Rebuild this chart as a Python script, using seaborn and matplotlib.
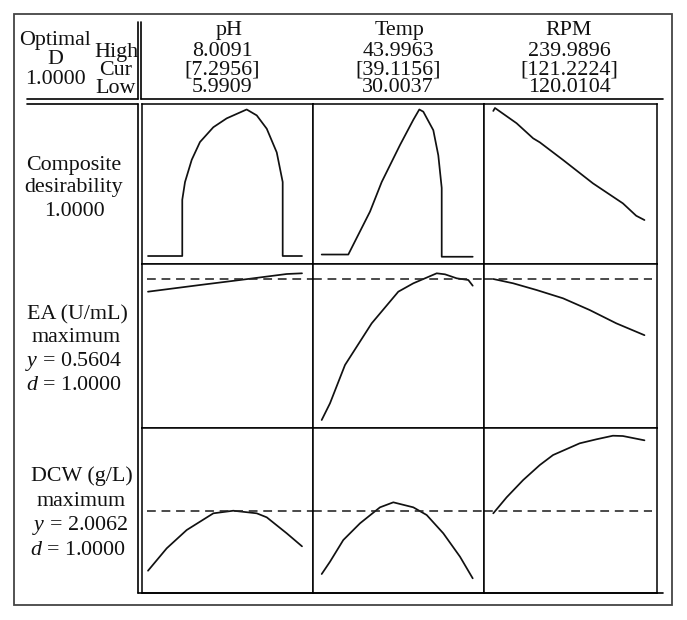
import matplotlib
matplotlib.use("Agg")
import matplotlib.pyplot as plt
import seaborn as sns
from matplotlib.lines import Line2D
from matplotlib.patches import Rectangle

# factor settings shown in the header
factors = ["pH", "Temp", "RPM"]
high_vals = ["8.0091", "43.9963", "239.9896"]
cur_vals = ["[7.2956]", "[39.1156]", "[121.2224]"]
low_vals = ["5.9909", "30.0037", "120.0104"]

# response targets (dashed lines)
ea_opt = 0.5604
dcw_opt = 2.0062

# composite desirability traces
ph_comp_x = [5.9909, 6.440, 6.440, 6.476, 6.564, 6.672, 6.847, 7.022, 7.284, 7.416, 7.547, 7.678, 7.756, 7.756, 8.0091]
ph_comp_y = [0, 0, 0.38, 0.50, 0.65, 0.77, 0.87, 0.93, 0.99, 0.95, 0.86, 0.70, 0.50, 0, 0]
temp_comp_x = [30.0037, 32.469, 34.480, 35.564, 37.260, 38.492, 39.048, 39.419, 40.346, 40.809, 41.124, 41.124, 43.9963]
temp_comp_y = [0.01, 0.01, 0.30, 0.50, 0.75, 0.92, 0.99, 0.975, 0.85, 0.68, 0.46, -0.005, -0.005]
rpm_comp_x = [120.0104, 121.35, 138.52, 151.65, 156.95, 175.37, 199.10, 222.83, 233.43, 239.9896]
rpm_comp_y = [0.98, 1.00, 0.897, 0.795, 0.768, 0.649, 0.491, 0.356, 0.272, 0.243]

# EA (U/mL) traces
ph_ea_x = [5.9909, 6.672, 7.197, 7.809, 8.0091]
ph_ea_y = [0.5406, 0.5513, 0.5593, 0.5689, 0.5700]
temp_ea_x = [30.0037, 30.773, 32.163, 34.637, 37.102, 38.492, 40.660, 41.429, 42.514, 43.589, 43.9963]
temp_ea_y = [0.3353, 0.3620, 0.4233, 0.4900, 0.5406, 0.5540, 0.5700, 0.5684, 0.5620, 0.5593, 0.5502]
rpm_ea_x = [120.0104, 135.83, 154.34, 175.37, 196.49, 217.61, 239.9896]
rpm_ea_y = [0.5609, 0.5540, 0.5433, 0.5300, 0.5113, 0.4900, 0.4710]

# DCW (g/L) traces
ph_dcw_x = [5.9909, 6.236, 6.498, 6.847, 7.109, 7.416, 7.547, 7.809, 8.0091]
ph_dcw_y = [1.406, 1.630, 1.813, 1.980, 2.006, 1.980, 1.940, 1.780, 1.650]
temp_dcw_x = [30.0037, 30.773, 32.005, 33.553, 35.406, 36.639, 38.492, 39.734, 41.272, 42.820, 43.9963]
temp_dcw_y = [1.373, 1.496, 1.713, 1.880, 2.040, 2.090, 2.040, 1.963, 1.780, 1.546, 1.330]
rpm_dcw_x = [120.0104, 130.61, 143.74, 156.95, 167.47, 188.59, 201.80, 214.93, 222.84, 239.9896]
rpm_dcw_y = [1.980, 2.140, 2.313, 2.463, 2.563, 2.680, 2.720, 2.756, 2.753, 2.710]

sns.set_style("white")
plt.rcParams["font.family"] = ["Liberation Serif", "DejaVu Serif"]
plt.rcParams["mathtext.fontset"] = "custom"
plt.rcParams["mathtext.rm"] = "Liberation Serif"
plt.rcParams["mathtext.it"] = "Liberation Serif:italic"

W, H = 687, 620
fig = plt.figure(figsize=(W / 100, H / 100), dpi=100)

def fx(x):
    return x / W

def fy(y):
    return 1 - y / H

def hline(y, x0, x1, lw=1.2, color="black"):
    fig.add_artist(Line2D([fx(x0), fx(x1)], [fy(y), fy(y)], lw=lw, color=color))

def vline(x, y0, y1, lw=1.2, color="black"):
    fig.add_artist(Line2D([fx(x), fx(x)], [fy(y0), fy(y1)], lw=lw, color=color))

# panel grid (pixel edges)
col_edges = [(142, 313), (313, 484), (484, 657)]
row_edges = [(104, 264), (264, 428), (428, 593)]
xlims = [(5.9123, 8.1532), (29.198, 45.043), (112.655, 249.94)]
ylims = [(-0.054, 1.027), (0.3225, 0.5849), (1.1832, 2.8332)]

traces = [
    [(ph_comp_x, ph_comp_y), (temp_comp_x, temp_comp_y), (rpm_comp_x, rpm_comp_y)],
    [(ph_ea_x, ph_ea_y), (temp_ea_x, temp_ea_y), (rpm_ea_x, rpm_ea_y)],
    [(ph_dcw_x, ph_dcw_y), (temp_dcw_x, temp_dcw_y), (rpm_dcw_x, rpm_dcw_y)],
]
targets = [None, ea_opt, dcw_opt]

for r, (top, bot) in enumerate(row_edges):
    for c, (left, right) in enumerate(col_edges):
        ax = fig.add_axes([fx(left), fy(bot), (right - left) / W, (bot - top) / H])
        xs, ys = traces[r][c]
        sns.lineplot(x=xs, y=ys, sort=False, estimator=None, ax=ax,
                     color="#111111", lw=1.25)
        if targets[r] is not None:
            xmin = 0.03 if c == 0 else 0
            xmax = 0.97 if c == 2 else 1
            ax.axhline(targets[r], xmin=xmin, xmax=xmax, color="#222222",
                       lw=1.15, ls=(0, (5.5, 3.6)))
        ax.set_xlim(*xlims[c])
        ax.set_ylim(*ylims[r])
        ax.set_xticks([])
        ax.set_yticks([])
        for s in ax.spines.values():
            s.set_color("black")
            s.set_linewidth(1.1)

# frame and separators
fig.add_artist(Rectangle((fx(14), fy(605)), (672 - 14) / W, (605 - 14) / H,
                         transform=fig.transFigure, fill=False,
                         edgecolor="#444444", lw=1.3))
vline(137.7, 21.7, 99.3)
vline(137.7, 104.3, 593)
vline(141, 21.7, 99.3)
hline(99.3, 26.7, 137.7)
hline(104.3, 26.7, 137.7)
hline(99.3, 141, 663)
hline(593, 137.7, 663)

fs = 15.8

def t(x, y, s, ha="center"):
    fig.text(fx(x), fy(y), s, ha=ha, va="baseline", fontsize=fs, color="#111111")

# header
t(55, 45, "Optimal")
t(55, 64, "D")
t(55, 84, "1.0000")
t(116, 56.5, "High")
t(116, 75, "Cur")
t(116, 93, "Low")

title_x = [229, 400, 569]
num_x = [222, 398, 569]
for i in range(3):
    t(title_x[i], 35, factors[i])
    t(num_x[i], 56.5, high_vals[i])
    t(num_x[i], 74.5, cur_vals[i])
    t(num_x[i], 92.5, low_vals[i])

# row labels
t(74, 170, "Composite")
t(74, 192, "desirability")
t(74, 216.5, "1.0000")

t(77, 319.5, "EA (U/mL)")
t(76, 342.5, "maximum")
t(74, 366, "$y$ = 0.5604")
t(74, 390, "$d$ = 1.0000")

t(82, 481.5, "DCW (g/L)")
t(81, 506, "maximum")
t(80, 530, "$y$ = 2.0062")
t(78, 555, "$d$ = 1.0000")

fig.savefig("out.png", dpi=100, facecolor="white")
